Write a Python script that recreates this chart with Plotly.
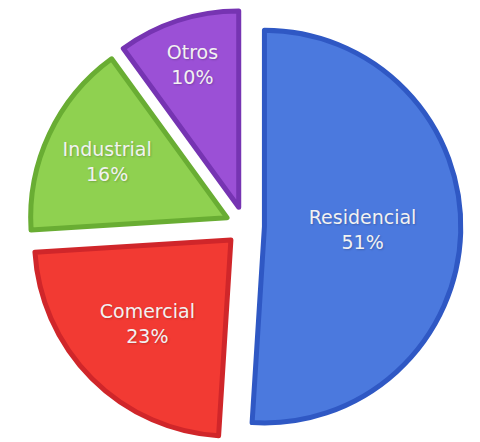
import plotly.graph_objects as go

# Energy consumption share by sector
sectors = ["Residencial", "Comercial", "Industrial", "Otros"]
shares = [51, 23, 16, 10]
fill_colors = ["#4b79de", "#f23a33", "#8fd150", "#9b50d6"]
edge_colors = ["#2f58c4", "#d0262a", "#69ad33", "#7634b2"]
pulls = [0.1, 0.1, 0.1, 0.1]

fig = go.Figure(
    go.Pie(
        labels=sectors,
        values=shares,
        sort=False,
        direction="clockwise",
        rotation=0,
        pull=pulls,
        marker=dict(colors=fill_colors, line=dict(color=edge_colors, width=5)),
        texttemplate="%{label}<br>%{value}%",
        textposition="inside",
        insidetextorientation="horizontal",
        textfont=dict(family="DejaVu Sans", size=19, color="#f2f2f2",
                      shadow="1px 1px 2px rgba(0,0,0,0.2)"),
        hoverinfo="label+percent",
        showlegend=False,
        domain=dict(x=[0.02, 1], y=[0, 1]),
    )
)

fig.update_layout(
    width=480,
    height=442,
    margin=dict(l=0, r=0, t=10, b=0),
    paper_bgcolor="white",
    plot_bgcolor="white",
    uniformtext=dict(minsize=12, mode="show"),
)

fig.write_html("out.html")
